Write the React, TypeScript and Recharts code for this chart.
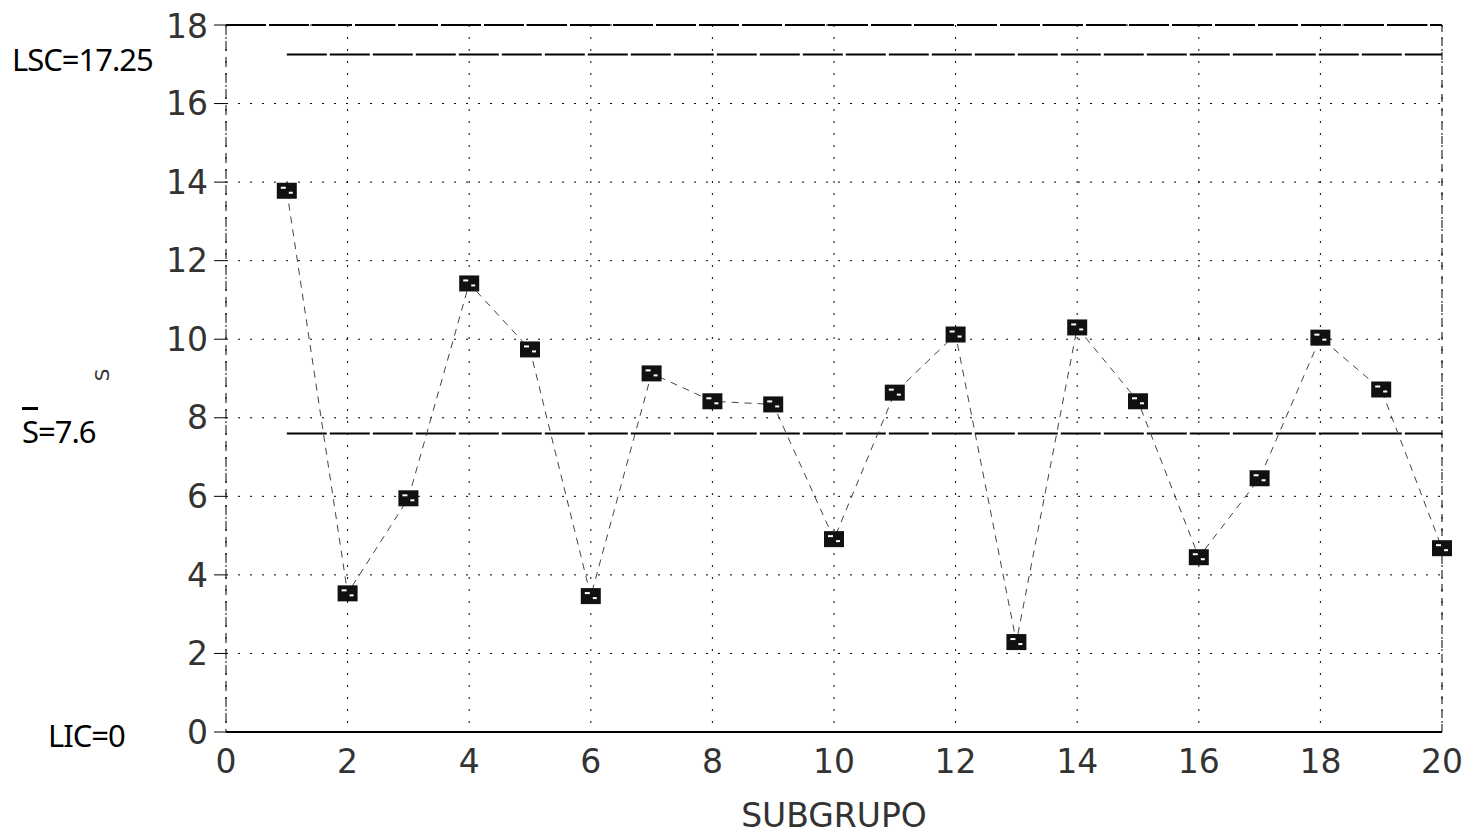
import React from 'react'
import { LineChart, Line, XAxis, YAxis, CartesianGrid, ReferenceLine } from 'recharts'

// subgroup number and the standard deviation S of each subgroup
const subgroups = [1, 2, 3, 4, 5, 6, 7, 8, 9, 10, 11, 12, 13, 14, 15, 16, 17, 18, 19, 20]
const sValues = [13.78, 3.53, 5.95, 11.42, 9.74, 3.46, 9.13, 8.42, 8.34, 4.91, 8.64, 10.12, 2.29, 10.3, 8.42, 4.45, 6.46, 10.04, 8.72, 4.68]

const xTicks = [0, 2, 4, 6, 8, 10, 12, 14, 16, 18, 20]
const yTicks = [0, 2, 4, 6, 8, 10, 12, 14, 16, 18]

const lsc = 17.25
const sBar = 7.6
const lic = 0

const data = subgroups.map((g, i) => ({ g, s: sValues[i] }))

const tickStyle = { fontFamily: 'DejaVu Sans', fontSize: 33, fill: '#333' }
const handStyle: React.CSSProperties = {
  position: 'absolute',
  fontFamily: 'Noto Sans',
  fontSize: 31,
  color: '#000',
  letterSpacing: -1,
  whiteSpace: 'nowrap',
}

// the scanned markers are black squares with a little white noise in them
function Marker(props: any) {
  const { cx, cy, index } = props
  if (cx == null || cy == null) return null
  return (
    <g key={'m' + index}>
      <rect x={cx - 10} y={cy - 8} width={20} height={16} fill="#111" />
      <rect x={cx - 6} y={cy - 4} width={5} height={2} fill="#fff" />
      <rect x={cx + 2} y={cy + 1} width={4} height={2} fill="#fff" />
    </g>
  )
}

export default function App() {
  return (
    <div style={{ position: 'relative', width: 1455, height: 831, background: '#fff' }}>
      <LineChart
        width={1455}
        height={831}
        data={data}
        margin={{ top: 17, right: 21, left: 148, bottom: 8 }}
      >
        <CartesianGrid stroke="#000" strokeDasharray="2 10" />
        <XAxis
          dataKey="g"
          type="number"
          domain={[0, 20]}
          ticks={xTicks}
          tickLine={false}
          tickMargin={12}
          axisLine={{ stroke: '#000', strokeWidth: 2 }}
          tick={tickStyle}
          height={99}
          label={{ value: 'SUBGRUPO', position: 'insideBottom', offset: 4, style: { fontFamily: 'DejaVu Sans', fontSize: 33, fill: '#333' } }}
        />
        <YAxis
          type="number"
          domain={[0, 18]}
          ticks={yTicks}
          width={70}
          tickSize={12}
          tickMargin={6}
          tickLine={{ stroke: '#000' }}
          axisLine={{ stroke: '#000', strokeDasharray: '10 6' }}
          tick={tickStyle}
        />
        <ReferenceLine y={18} stroke="#000" strokeWidth={2} strokeDasharray="40 3" />
        <ReferenceLine x={20} stroke="#000" strokeDasharray="8 6" />
        <ReferenceLine
          segment={[{ x: 1, y: lsc }, { x: 20, y: lsc }]}
          stroke="#000"
          strokeWidth={2}
          strokeDasharray="40 3"
        />
        <ReferenceLine
          segment={[{ x: 1, y: sBar }, { x: 20, y: sBar }]}
          stroke="#000"
          strokeWidth={2}
          strokeDasharray="40 3"
        />
        <Line
          type="linear"
          dataKey="s"
          stroke="#444"
          strokeWidth={1}
          strokeDasharray="7 6"
          dot={<Marker />}
          isAnimationActive={false}
        />
      </LineChart>

      {/* handwritten notes from the scan */}
      <div style={{ ...handStyle, left: 4, top: 30 }}>LSC=17.25</div>
      <div style={{ ...handStyle, left: 14, top: 402 }}>
        <span style={{ textDecoration: 'overline' }}>S</span>=7.6
      </div>
      <div style={{ ...handStyle, left: 40, top: 706 }}>LIC={lic}</div>
      <div
        style={{
          position: 'absolute',
          left: 88,
          top: 355,
          fontFamily: 'DejaVu Sans',
          fontSize: 20,
          color: '#333',
          transform: 'rotate(-90deg)',
        }}
      >
        S
      </div>
    </div>
  )
}
